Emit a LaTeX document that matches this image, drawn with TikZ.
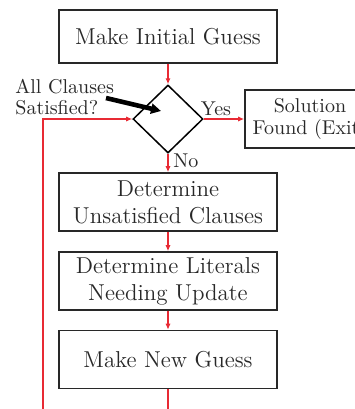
\documentclass[tikz,border=0pt]{standalone}
\usepackage{tikz}
\usetikzlibrary{arrows.meta,shapes.geometric}
\definecolor{white}{RGB}{255,255,255}
\definecolor{ink}{RGB}{40,40,40}
\definecolor{flow_red}{RGB}{232,42,52}

\begin{document}
\begin{tikzpicture}[x=0.5pt,y=-0.5pt,
	procbox/.style={rectangle,draw=ink,line width=0.8pt,text=ink,align=center,minimum width=109pt,minimum height=29pt,inner sep=2pt,font=\fontsize{11.5}{13.5}\selectfont},
	decide/.style={diamond,draw=black,line width=0.75pt,minimum width=35pt,minimum height=34pt,inner sep=0pt},
	remark/.style={text=ink,inner sep=0pt,font=\fontsize{10}{10.5}\selectfont},
	redarrow/.style={flow_red,line width=0.75pt,-{Latex[length=3pt,width=2.6pt]}},
	pointer/.style={black,line width=2.3pt,-{Triangle[length=5pt,width=5pt]}}]
	\useasboundingbox (0,0) rectangle (355,409);
	\clip (0,0) rectangle (355,409);

	\node[procbox,minimum height=26.5pt] (init) at (168,36.5) {Make Initial Guess};
	\node[decide] (check) at (168,119) {};
	\node[procbox,font=\fontsize{10}{11}\selectfont,minimum width=65pt] (sol) at (310,119) {Solution\\Found (Exit)};
	\node[procbox] (unsat) at (168,202) {Determine\\Unsatisfied Clauses};
	\node[procbox] (lits) at (168,281) {Determine Literals\\Needing Update};
	\node[procbox] (guess) at (168,359.5) {Make New Guess};

	\node[remark,anchor=west,align=left] (qlbl) at (15,97) {All Clauses\\Satisfied?};
	\node[remark] (yes) at (216,109) {Yes};
	\node[remark] (no) at (186,161) {No};

	\coordinate (ptail) at (106,98);
	\coordinate (phead) at (161,111);
	\coordinate (loopbot) at (168,440);
	\coordinate (loopleft) at (43,440);

	\foreach \a/\b in {init/check,check/unsat,unsat/lits,lits/guess,check/sol}
		\draw[redarrow] (\a) -- (\b);
	\draw[redarrow] (guess) -- (loopbot) -- (loopleft) |- (check);
	\draw[pointer] (ptail) -- (phead);
\end{tikzpicture}
\end{document}
